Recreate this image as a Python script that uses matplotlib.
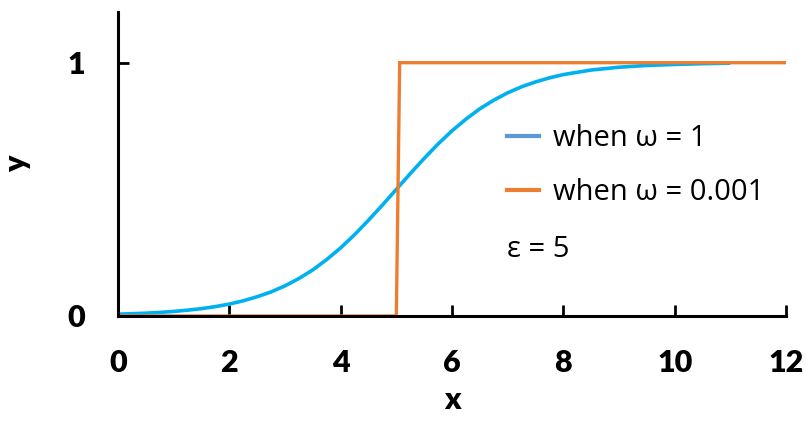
import matplotlib.pyplot as plt
from matplotlib.lines import Line2D

# blue curve (omega = 1)
x_blue = [0, 0.25, 0.5, 0.75, 1, 1.25, 1.5, 1.75, 2, 2.25, 2.5, 2.75, 3, 3.25, 3.5, 3.75,
          4, 4.25, 4.5, 4.75, 5, 5.25, 5.5, 5.75, 6, 6.25, 6.5, 6.75, 7, 7.25, 7.5, 7.75,
          8, 8.5, 9, 9.5, 10, 10.5, 11]
y_blue = [0.007, 0.009, 0.011, 0.014, 0.018, 0.023, 0.029, 0.037, 0.047, 0.06, 0.076, 0.095,
          0.119, 0.148, 0.182, 0.223, 0.269, 0.321, 0.378, 0.438, 0.5, 0.562, 0.622, 0.679,
          0.731, 0.777, 0.818, 0.852, 0.881, 0.905, 0.924, 0.94, 0.953, 0.971, 0.982, 0.989,
          0.993, 0.996, 0.998]

# orange step (omega = 0.001)
x_orange = [0, 5.0, 5.06, 12]
y_orange = [0, 0, 1, 1]

labels = ['when ω = 1', 'when ω = 0.001']
note = 'ε = 5'

fam = ['Lato', 'DejaVu Sans']
plt.rcParams['font.family'] = fam
txt_fam = ['Open Sans', 'DejaVu Sans']

fig = plt.figure(figsize=(8.06, 4.23), dpi=100)
ax = fig.add_axes([0.1464, 0.253, 0.8288, 0.7186])

ax.plot(x_blue, y_blue, color='#00B0F0', lw=2.6, solid_capstyle='butt')
ax.plot(x_orange, y_orange, color='#ED7D31', lw=2.4, solid_joinstyle='miter')

ax.set_xlim(0, 12)
ax.set_ylim(0, 1.2)
ax.set_xticks([0, 2, 4, 6, 8, 10, 12])
ax.set_yticks([0, 1])
for s in ['top', 'right']:
    ax.spines[s].set_visible(False)
for s in ['left', 'bottom']:
    ax.spines[s].set_linewidth(2.2)
ax.tick_params(direction='in', length=8, width=2)
ax.tick_params(axis='x', pad=24)
ax.tick_params(axis='y', pad=24)
for t in ax.get_xticklabels() + ax.get_yticklabels():
    t.set_fontsize(22)
    t.set_fontweight('heavy')

ax.set_xlabel('x', fontsize=22, fontweight='heavy', labelpad=6)
ax.set_ylabel('y', fontsize=22, fontweight='heavy', labelpad=26)

handles = [Line2D([], [], color='#5B9BD5', lw=3), Line2D([], [], color='#ED7D31', lw=3)]
leg = ax.legend(handles, labels, loc='upper left', bbox_to_anchor=(0.5825, 0.632), frameon=False,
                prop={'family': txt_fam, 'size': 21}, handlelength=1.1, handletextpad=0.48,
                labelspacing=0.86, borderpad=0, borderaxespad=0)
ax.text(0.583, 0.218, note, transform=ax.transAxes, fontsize=21, family=txt_fam,
        va='center', ha='left')

fig.savefig('out.png', dpi=100)
